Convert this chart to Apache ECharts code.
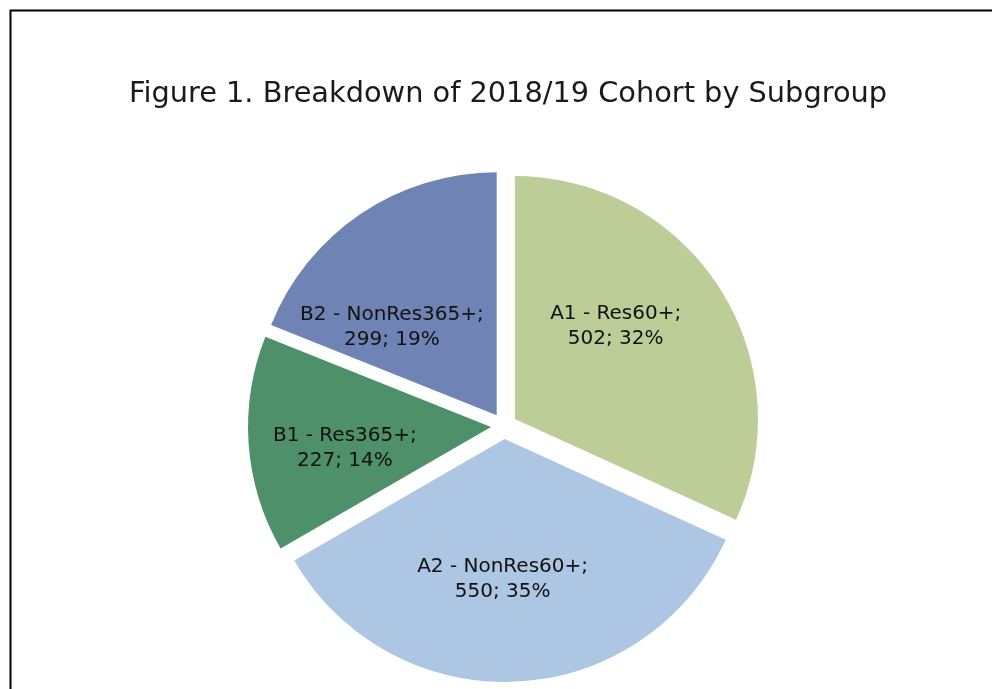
<!DOCTYPE html>
<html>
<head>
<meta charset="utf-8">
<script src="https://cdn.jsdelivr.net/npm/echarts@6/dist/echarts.min.js"></script>
<style>
  html, body { margin: 0; padding: 0; background: #fff; }
  #chart { width: 992px; height: 689px; }
</style>
</head>
<body>
<div id="chart"></div>
<script>
// subgroups of the 2018/19 cohort
var groups = ['A1 - Res60+', 'A2 - NonRes60+', 'B1 - Res365+', 'B2 - NonRes365+'];
var counts = [502, 550, 227, 299];
var percents = [32, 35, 14, 19];
var colors = ['#bdcd98', '#adc6e3', '#4e9069', '#6f84b5'];

// small nudges so the labels sit where Excel put them
var labelNudge = [[-4, -25], [-8, 16], [-22, 12], [-35, 15]];

var chartDom = document.getElementById('chart');
var myChart = echarts.init(chartDom);

var option = {
  animation: false,
  title: {
    text: 'Figure 1. Breakdown of 2018/19 Cohort by Subgroup',
    left: 503,
    top: 75,
    textAlign: 'center',
    textStyle: {
      fontFamily: 'DejaVu Sans',
      fontWeight: 'normal',
      fontSize: 28.8,
      color: '#1a1a1a'
    }
  },
  graphic: [
    {
      type: 'rect',
      shape: { x: 10.5, y: 10.5, width: 1000, height: 700 },
      style: { fill: 'none', stroke: '#000', lineWidth: 2 },
      silent: true
    }
  ],
  series: [
    {
      type: 'pie',
      center: [504, 426],
      radius: [0, 243],
      startAngle: 90,
      clockwise: true,
      selectedMode: 'multiple',
      selectedOffset: 13,
      emphasis: { disabled: true },
      select: { itemStyle: { borderWidth: 0 } },
      label: {
        position: 'inside',
        fontFamily: 'DejaVu Sans',
        fontSize: 20,
        lineHeight: 25,
        color: '#111',
        formatter: function (p) {
          return groups[p.dataIndex] + ';\n' + counts[p.dataIndex] + '; ' + percents[p.dataIndex] + '%';
        }
      },
      labelLayout: function (params) {
        var n = labelNudge[params.dataIndex];
        return { dx: n[0], dy: n[1] };
      },
      data: groups.map(function (g, i) {
        return {
          name: g,
          value: counts[i],
          selected: true,
          itemStyle: { color: colors[i] }
        };
      })
    }
  ]
};

option && myChart.setOption(option);
</script>
</body>
</html>
